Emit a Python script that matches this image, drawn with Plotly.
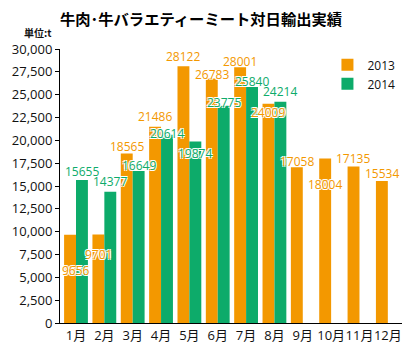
import plotly.graph_objects as go

months = ["1月", "2月", "3月", "4月", "5月", "6月", "7月", "8月", "9月", "10月", "11月", "12月"]
v2013 = [9656, 9701, 18565, 21486, 28122, 26783, 28001, 24009, 17058, 18004, 17135, 15534]
v2014 = [15655, 14377, 16649, 20614, 19874, 23775, 25840, 24214, None, None, None, None]
y_ticks = [0, 2500, 5000, 7500, 10000, 12500, 15000, 17500, 20000, 22500, 25000, 27500, 30000]

# label placement style (pixel offsets of label centre from bar top; positive = up)
off2013 = [-36, -20, 7, 10, 10, 4, 6, -9, 6, -26, 8, 8]
xoff2013 = [0, -6, -6, -6, -6, -6, -6, -6, -6, -6, -6, -6]
off2014 = [9, 10, 5, 1, -12, 3, 5, 10]

ORANGE = "#F39800"
GREEN = "#0DAB6A"
FONT = "Open Sans, Noto Sans CJK JP, sans-serif"
SHADOW = "1px 1px 0px white, -1px -1px 0px white, 1px -1px 0px white, -1px 1px 0px white"

fig = go.Figure()
fig.add_trace(go.Bar(x=months, y=v2013, name="2013", marker=dict(color=ORANGE, line=dict(width=0))))
fig.add_trace(go.Bar(x=months, y=v2014, name="2014", marker=dict(color=GREEN, line=dict(width=0))))

ann = []
for m, v, dy, dx in zip(months, v2013, off2013, xoff2013):
    ann.append(dict(x=m, y=v, xref="x", yref="y", text=str(v), showarrow=False,
                    xshift=dx, yshift=dy, yanchor="middle", xanchor="center",
                    font=dict(family=FONT, size=12, color=ORANGE, shadow=SHADOW)))
for m, v, dy in zip(months, v2014, off2014):
    if v is None:
        continue
    ann.append(dict(x=m, y=v, xref="x", yref="y", text=str(v), showarrow=False,
                    xshift=6, yshift=dy, yanchor="middle", xanchor="center",
                    font=dict(family=FONT, size=12, color=GREEN, shadow=SHADOW)))
ann.append(dict(x=0, y=1, xref="paper", yref="paper", text="<b>単位:t</b>", showarrow=False,
                xanchor="right", yanchor="middle", xshift=-6, yshift=17,
                font=dict(family="Noto Sans CJK JP", size=10, color="#111")))

fig.update_layout(
    width=417, height=354,
    margin=dict(l=60, r=15, t=49, b=31, autoexpand=False),
    paper_bgcolor="white", plot_bgcolor="white",
    barmode="group", bargap=0.16, bargroupgap=0,
    title=dict(text="<b>牛肉･牛バラエティーミート対日輸出実績</b>", x=0, xref="paper", xanchor="left",
               y=1 - 20 / 354, yref="container", yanchor="middle",
               font=dict(family="Noto Sans CJK JP", size=15.3, color="#000")),
    legend=dict(x=0.782, y=0.995, xanchor="left", yanchor="top", bgcolor="rgba(0,0,0,0)",
                font=dict(family=FONT, size=12, color="#111"), tracegroupgap=0, itemwidth=30),
    annotations=ann,
    font=dict(family=FONT),
)
fig.update_xaxes(showline=True, linecolor="black", linewidth=1, ticks="", showgrid=False,
                 tickangle=0, automargin=False,
                 tickfont=dict(family=FONT, size=13, color="#111"))
fig.update_yaxes(range=[0, 30000], tickvals=y_ticks, tickformat=",", showline=True, linecolor="black",
                 linewidth=1, ticks="outside", ticklen=4, tickcolor="black", showgrid=False, zeroline=False,
                 automargin=False, tickfont=dict(family=FONT, size=13, color="#111"))

fig.write_html("out.html")
